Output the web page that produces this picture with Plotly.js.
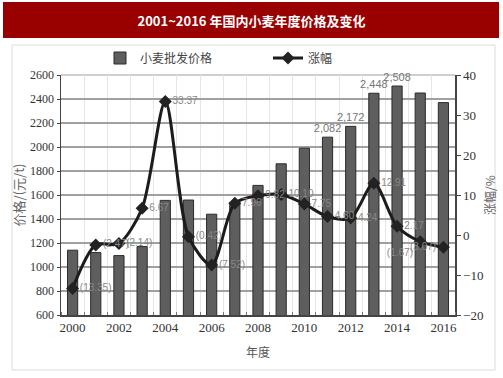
<!DOCTYPE html>
<html>
<head>
<meta charset="utf-8">
<script src="https://cdn.plot.ly/plotly-3.0.1.min.js"></script>
<style>html,body{margin:0;padding:0;background:#fff;}#chart{width:503px;height:378px;}</style>
</head>
<body>
<div id="chart"></div>
<script>
// ---- data ----
const years = [2000, 2001, 2002, 2003, 2004, 2005, 2006, 2007, 2008, 2009, 2010, 2011, 2012, 2013, 2014, 2015, 2016];
const prices = [1140, 1120, 1095, 1170, 1555, 1558, 1440, 1530, 1680, 1860, 1990, 2082, 2172, 2448, 2508, 2450, 2370];
const changes = [-13.35, -2.47, -2.14, 6.67, 33.37, -0.42, -7.52, 7.96, 9.82, 10.10, 7.75, 4.60, 4.24, 12.91, 2.17, -1.67, -3.07];
const labelledPriceYears = [2011, 2012, 2013, 2014];
const priceName = '小麦批发价格';
const changeName = '涨幅';
const titleText = '2001~2016 年国内小麦年度价格及变化';
const xTitle = '年度';
const yTitle = '价格/(元/t)';
const y2Title = '涨幅/%';

const fmtThousands = v => v.toLocaleString('en-US');
const priceText = years.map((y, i) => labelledPriceYears.includes(y) ? fmtThousands(prices[i]) : '');
const changeText = changes.map(v => v < 0 ? '(' + Math.abs(v).toFixed(2) + ')' : v.toFixed(2));
const lastYear = years[years.length - 1];
const changeTextPos = years.map(y => y === lastYear ? 'middle left' : (y === lastYear - 1 ? 'bottom left' : 'middle right'));

const serif = 'Liberation Serif, Noto Sans CJK SC, serif';
const cjk = 'Noto Sans CJK SC, sans-serif';

// paper coordinate helpers (plot area: x 61..455, y 75..315)
const L = 61, R = 48, T = 75, B = 63, W = 503, H = 378;
const pw = W - L - R, ph = H - T - B;
const px = x => (x - L) / pw;
const py = y => 1 - (y - T) / ph;

const traces = [
  {
    type: 'bar', name: priceName, x: years, y: prices, yaxis: 'y',
    width: 0.44,
    marker: {color: '#5e5e5e', line: {color: '#2b2b2b', width: 1}},
    text: priceText, textposition: 'outside', cliponaxis: false, constraintext: 'none',
    textfont: {family: 'Liberation Sans Narrow, Liberation Sans, sans-serif', size: 11, color: '#777'}
  },
  {
    type: 'scatter', mode: 'lines+markers+text', name: changeName,
    x: years, y: changes, yaxis: 'y2',
    line: {color: '#1c1c1c', width: 3, shape: 'spline', smoothing: 0.8},
    marker: {symbol: 'diamond', size: 10, color: '#222'},
    text: changeText, textposition: changeTextPos,
    textfont: {family: 'Liberation Sans Narrow, Liberation Sans, sans-serif', size: 10, color: '#888'}
  }
];

const layout = {
  width: W, height: H,
  margin: {l: L, r: R, t: T, b: B, pad: 0},
  paper_bgcolor: '#fff', plot_bgcolor: '#fff',
  title: {
    text: '<b>' + titleText + '</b>',
    font: {family: cjk, size: 13, color: '#fff'},
    x: 0.5, xref: 'container', y: 1 - 21 / H, yref: 'container', yanchor: 'middle'
  },
  showlegend: true,
  legend: {
    orientation: 'h', x: px(100), xanchor: 'left', y: py(58), yanchor: 'middle',
    font: {family: cjk, size: 12, color: '#444'},
    entrywidth: 123, entrywidthmode: 'pixels', bgcolor: 'rgba(0,0,0,0)'
  },
  xaxis: {
    range: [1999.5, 2016.5], tick0: 2000, dtick: 2,
    showgrid: false, zeroline: false,
    showline: true, linecolor: '#444', linewidth: 1.5,
    ticks: '',
    minor: {tick0: 1999.5, dtick: 1, showgrid: true, gridcolor: '#e6e6e6', gridwidth: 1, ticks: 'inside', ticklen: 3, tickcolor: '#777'},
    tickfont: {family: serif, size: 13, color: '#333'},
    title: {text: xTitle, font: {family: cjk, size: 12, color: '#555'}, standoff: 14}
  },
  yaxis: {
    range: [600, 2600], dtick: 200,
    showgrid: true, gridcolor: '#a0a0a0', gridwidth: 1.2, zeroline: false,
    showline: true, linecolor: '#444', linewidth: 1.5, mirror: false,
    ticks: 'outside', ticklen: 3, tickcolor: '#444',
    tickfont: {family: serif, size: 12, color: '#333'},
    title: {text: yTitle, font: {family: cjk, size: 13, color: '#666'}, standoff: 2}
  },
  yaxis2: {
    overlaying: 'y', side: 'right', range: [-20, 40], dtick: 10,
    showgrid: false, zeroline: false,
    showline: true, linecolor: '#444', linewidth: 1.5,
    ticks: 'outside', ticklen: 4, tickcolor: '#444',
    tickfont: {family: serif, size: 13, color: '#333'},
    title: {text: y2Title, font: {family: cjk, size: 12, color: '#666'}, standoff: 4}
  },
  shapes: [
    {type: 'rect', xref: 'paper', yref: 'paper', x0: px(3), x1: px(499), y0: py(38), y1: py(2),
     fillcolor: '#990000', line: {width: 0}, layer: 'below'},
    {type: 'rect', xref: 'paper', yref: 'paper', x0: px(12), x1: px(495), y0: py(370), y1: py(45),
     fillcolor: 'rgba(0,0,0,0)', line: {color: '#dcdcdc', width: 1}, layer: 'below'},
    {type: 'line', xref: 'paper', yref: 'paper', x0: 0, x1: 1, y0: 1, y1: 1,
     line: {color: '#a0a0a0', width: 1.2}, layer: 'below'}
  ]
};

Plotly.newPlot('chart', traces, layout, {displayModeBar: false, staticPlot: true});
</script>
</body>
</html>
